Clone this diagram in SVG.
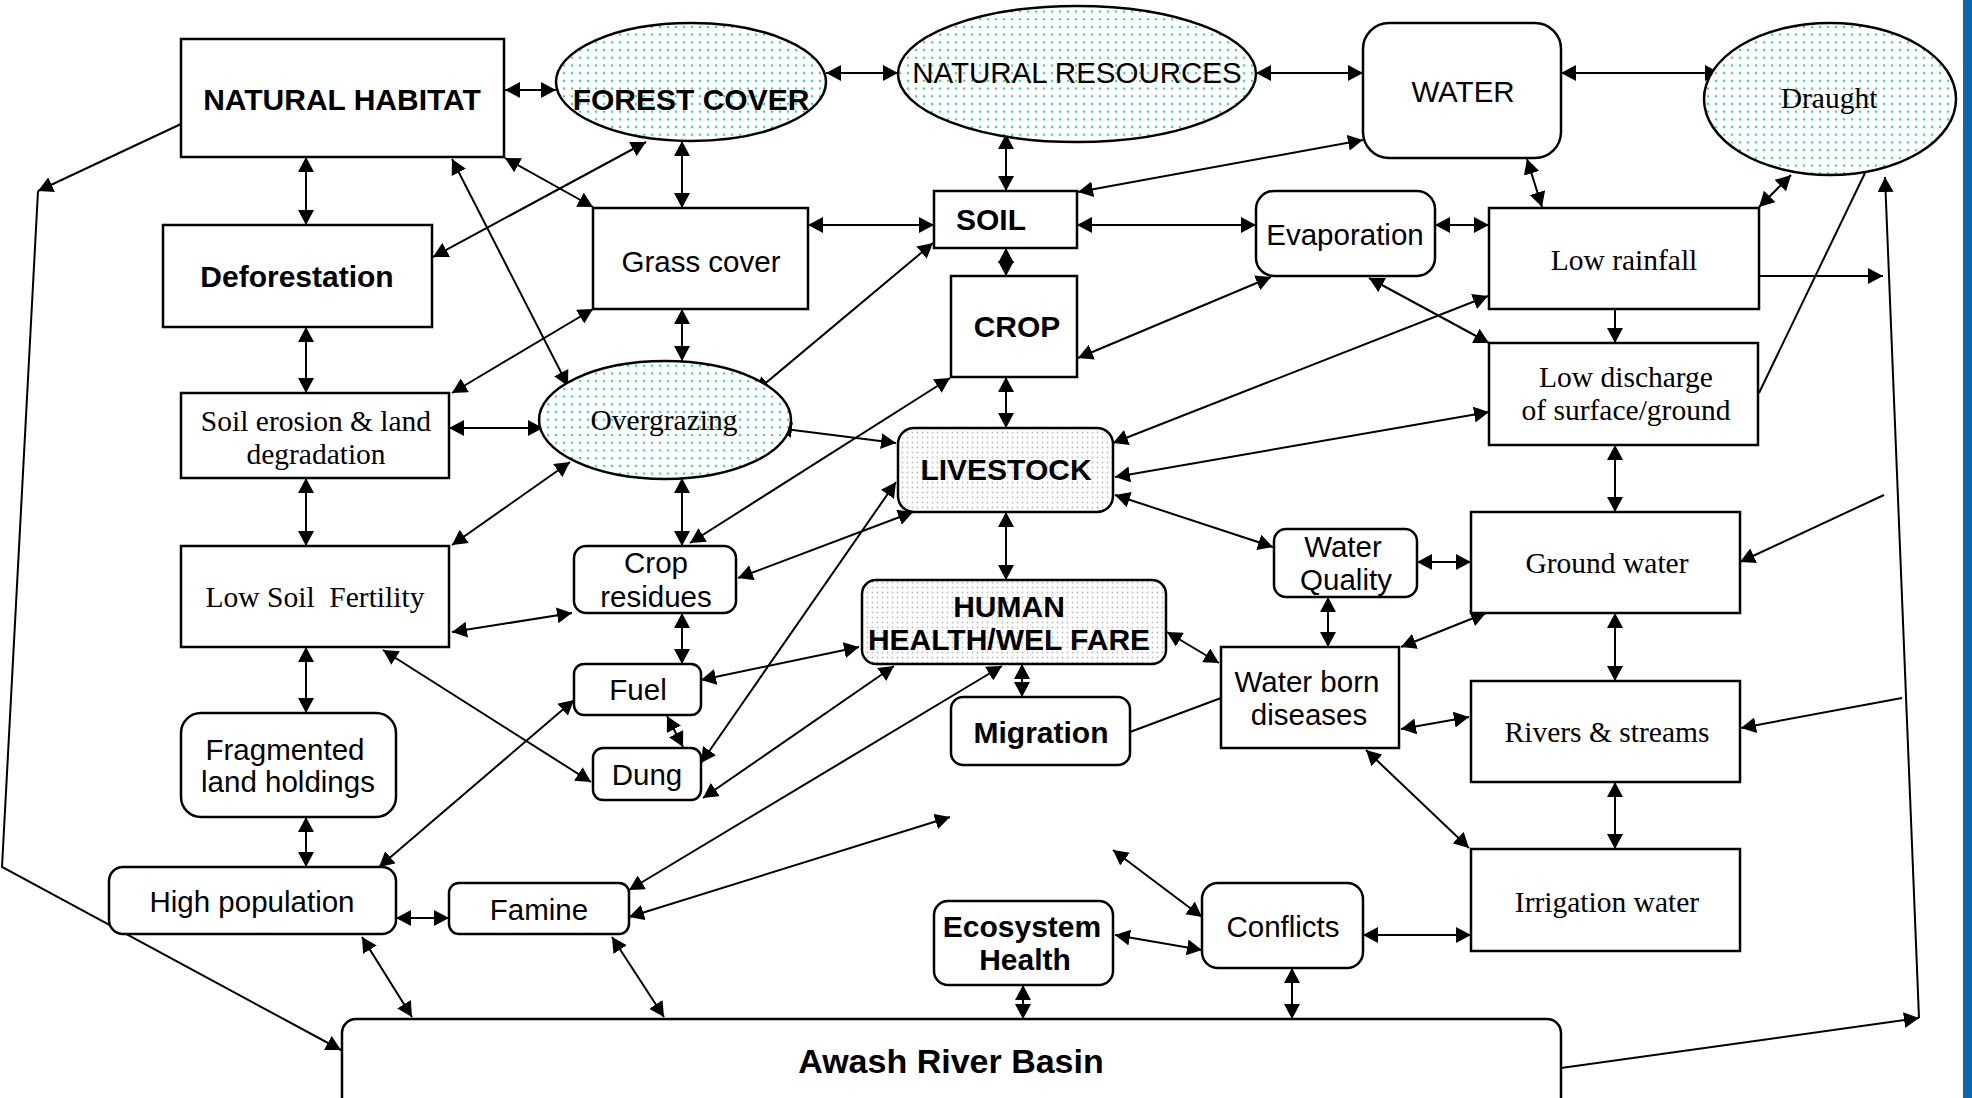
<svg xmlns="http://www.w3.org/2000/svg" width="1972" height="1098" viewBox="0 0 1972 1098">
<defs>
<pattern id="teal" width="8" height="7.7" patternUnits="userSpaceOnUse">
<rect width="8" height="7.7" fill="#ffffff"/>
<circle cx="4" cy="3.85" r="1.15" fill="#2fd3a9"/>
</pattern>
<pattern id="gray" width="5" height="5" patternUnits="userSpaceOnUse">
<rect width="5" height="5" fill="#ffffff"/>
<circle cx="2.5" cy="2.5" r="0.9" fill="#bdbdbd"/>
</pattern>
<marker id="ah" markerUnits="userSpaceOnUse" markerWidth="17" markerHeight="16" refX="15" refY="8" orient="auto-start-reverse">
<path d="M0,0 L15,8 L0,16 z" fill="#000"/>
</marker>
</defs>
<style>
.box{fill:#fff;stroke:#000;stroke-width:2.5}
.el{fill:url(#teal);stroke:#000;stroke-width:2.5}
.gr{fill:url(#gray);stroke:#000;stroke-width:2.5}
.c line,.c polyline{stroke:#000;stroke-width:2;fill:none}
.d{marker-start:url(#ah);marker-end:url(#ah)}
.s{marker-end:url(#ah)}
text{fill:#000;text-anchor:middle}
.sans{font-family:"Liberation Sans",Arial,sans-serif;font-size:29.5px}
.bold{font-family:"Liberation Sans",Arial,sans-serif;font-size:30px;font-weight:bold}
.serif{font-family:"Liberation Serif","Times New Roman",serif;font-size:29.5px}
</style>
<rect x="0" y="0" width="1972" height="1098" fill="#fff"/>
<rect x="1963" y="0" width="9" height="1098" fill="#0a66b0"/>

<g class="c" id="connectors">
<line class="d" x1="505" y1="90" x2="556" y2="90"/>
<line class="d" x1="826" y1="73" x2="898" y2="73"/>
<line class="d" x1="1256" y1="73" x2="1363" y2="73"/>
<line class="d" x1="1561" y1="73" x2="1720" y2="73"/>
<line class="d" x1="306" y1="157" x2="306" y2="225"/>
<line class="d" x1="646" y1="142" x2="433" y2="257"/>
<line class="d" x1="505" y1="158" x2="593" y2="207"/>
<line class="d" x1="452" y1="159" x2="568" y2="386"/>
<line class="d" x1="682" y1="141" x2="682" y2="208"/>
<line class="d" x1="1006" y1="134" x2="1006" y2="191"/>
<line class="d" x1="1363" y1="140" x2="1078" y2="192"/>
<line class="d" x1="808" y1="225" x2="934" y2="225"/>
<line class="d" x1="1077" y1="225" x2="1256" y2="225"/>
<line class="d" x1="1435" y1="225" x2="1489" y2="225"/>
<line class="d" x1="1527" y1="159" x2="1542" y2="207"/>
<line class="d" x1="1791" y1="175" x2="1759" y2="207"/>
<line class="d" x1="1006" y1="248" x2="1006" y2="276"/>
<line class="d" x1="755" y1="392" x2="933" y2="243"/>
<line class="d" x1="1271" y1="277" x2="1078" y2="358"/>
<line class="s" x1="1759" y1="276" x2="1883" y2="276"/>
<line class="s" x1="1615" y1="309" x2="1615" y2="343"/>
<line class="d" x1="1369" y1="278" x2="1489" y2="343"/>
<line x1="1865" y1="173" x2="1759" y2="393"/>
<line class="s" x1="1561" y1="1068" x2="1919" y2="1018"/>
<line class="s" x1="1919" y1="1018" x2="1885" y2="177"/>
<line class="d" x1="306" y1="327" x2="306" y2="393"/>
<line class="d" x1="593" y1="309" x2="452" y2="393"/>
<line class="d" x1="682" y1="309" x2="682" y2="361"/>
<line class="d" x1="449" y1="428" x2="543" y2="428"/>
<line class="d" x1="306" y1="478" x2="306" y2="546"/>
<line class="d" x1="570" y1="462" x2="452" y2="545"/>
<line class="d" x1="777" y1="428" x2="896" y2="443"/>
<line class="d" x1="682" y1="478" x2="682" y2="546"/>
<line class="d" x1="690" y1="543" x2="950" y2="378"/>
<line class="d" x1="1006" y1="377" x2="1006" y2="428"/>
<line class="d" x1="1488" y1="296" x2="1113" y2="443"/>
<line class="d" x1="1489" y1="412" x2="1115" y2="477"/>
<line class="d" x1="452" y1="632" x2="572" y2="613"/>
<line class="d" x1="913" y1="512" x2="738" y2="578"/>
<line class="d" x1="896" y1="482" x2="701" y2="763"/>
<line class="d" x1="1006" y1="512" x2="1006" y2="580"/>
<line class="d" x1="1115" y1="495" x2="1273" y2="547"/>
<line class="d" x1="1615" y1="445" x2="1615" y2="512"/>
<line class="s" x1="1884" y1="495" x2="1740" y2="562"/>
<line class="d" x1="1417" y1="562" x2="1471" y2="562"/>
<line class="d" x1="1328" y1="597" x2="1328" y2="647"/>
<line class="d" x1="1486" y1="613" x2="1401" y2="647"/>
<line class="d" x1="1615" y1="613" x2="1615" y2="681"/>
<line class="d" x1="306" y1="647" x2="306" y2="713"/>
<line class="d" x1="383" y1="650" x2="591" y2="782"/>
<line class="d" x1="682" y1="613" x2="682" y2="664"/>
<line class="d" x1="379" y1="867" x2="574" y2="700"/>
<line class="d" x1="859" y1="647" x2="701" y2="680"/>
<line class="d" x1="667" y1="716" x2="683" y2="747"/>
<line class="d" x1="894" y1="666" x2="703" y2="798"/>
<line class="d" x1="1002" y1="666" x2="629" y2="890"/>
<line class="d" x1="629" y1="917" x2="950" y2="817"/>
<line class="d" x1="1022" y1="664" x2="1022" y2="697"/>
<line x1="1130" y1="732" x2="1221" y2="698"/>
<line class="d" x1="1167" y1="632" x2="1219" y2="663"/>
<line class="d" x1="1469" y1="717" x2="1401" y2="729"/>
<line class="s" x1="1902" y1="698" x2="1741" y2="728"/>
<line class="d" x1="1615" y1="782" x2="1615" y2="849"/>
<line class="d" x1="1366" y1="750" x2="1469" y2="848"/>
<line class="d" x1="306" y1="817" x2="306" y2="867"/>
<line class="d" x1="396" y1="918" x2="449" y2="918"/>
<line class="d" x1="362" y1="937" x2="412" y2="1017"/>
<line class="d" x1="612" y1="937" x2="664" y2="1017"/>
<line class="d" x1="1023" y1="985" x2="1023" y2="1019"/>
<line class="d" x1="1115" y1="935" x2="1202" y2="950"/>
<line class="d" x1="1202" y1="917" x2="1113" y2="850"/>
<line class="d" x1="1363" y1="935" x2="1471" y2="935"/>
<line class="d" x1="1292" y1="968" x2="1292" y2="1019"/>
<line class="s" x1="181" y1="124" x2="38" y2="191"/>
<polyline class="s" points="38,191 2,867 341,1050"/>
</g>

<g id="natural-habitat"><rect class="box" x="181" y="39" width="323" height="118"/><text class="bold" x="342" y="110">NATURAL HABITAT</text></g>
<g id="forest-cover"><ellipse class="el" cx="691" cy="82" rx="135" ry="59"/><text class="bold" x="691" y="110">FOREST COVER</text></g>
<g id="natural-resources"><ellipse class="el" cx="1077" cy="74" rx="179" ry="68"/><text class="sans" x="1077" y="83">NATURAL RESOURCES</text></g>
<g id="water"><rect class="box" x="1363" y="23" width="198" height="135" rx="26"/><text class="sans" x="1463" y="102">WATER</text></g>
<g id="draught"><ellipse class="el" cx="1830" cy="99" rx="126" ry="76"/><text class="serif" x="1829" y="108">Draught</text></g>
<g id="deforestation"><rect class="box" x="163" y="225" width="269" height="102"/><text class="bold" x="297" y="287">Deforestation</text></g>
<g id="grass-cover"><rect class="box" x="593" y="208" width="215" height="101"/><text class="sans" x="701" y="272">Grass cover</text></g>
<g id="soil"><rect class="box" x="934" y="191" width="143" height="57"/><text class="bold" x="991" y="230">SOIL</text></g>
<g id="crop"><rect class="box" x="951" y="276" width="126" height="101"/><text class="bold" x="1017" y="337">CROP</text></g>
<g id="evaporation"><rect class="box" x="1256" y="191" width="179" height="85" rx="18"/><text class="sans" x="1345" y="245">Evaporation</text></g>
<g id="low-rainfall"><rect class="box" x="1489" y="208" width="270" height="101"/><text class="serif" x="1624" y="270">Low rainfall</text></g>
<g id="soil-erosion"><rect class="box" x="181" y="393" width="268" height="85"/><text class="serif" x="316" y="431">Soil erosion &amp; land</text><text class="serif" x="316" y="464">degradation</text></g>
<g id="overgrazing"><ellipse class="el" cx="665" cy="420" rx="126" ry="59"/><text class="serif" x="664" y="430">Overgrazing</text></g>
<g id="livestock"><rect class="gr" x="898" y="428" width="215" height="84" rx="16"/><text class="bold" x="1006" y="480">LIVESTOCK</text></g>
<g id="low-discharge"><rect class="box" x="1489" y="343" width="269" height="102"/><text class="serif" x="1626" y="387">Low discharge</text><text class="serif" x="1626" y="420">of surface/ground</text></g>
<g id="low-soil-fertility"><rect class="box" x="181" y="546" width="268" height="101"/><text class="serif" x="315" y="607" xml:space="preserve">Low Soil  Fertility</text></g>
<g id="crop-residues"><rect class="box" x="574" y="546" width="162" height="67" rx="12"/><text class="sans" x="656" y="573">Crop</text><text class="sans" x="656" y="607">residues</text></g>
<g id="human-health"><rect class="gr" x="862" y="580" width="304" height="84" rx="14"/><text class="bold" x="1009" y="617">HUMAN</text><text class="bold" x="1009" y="650">HEALTH/WEL FARE</text></g>
<g id="water-quality"><rect class="box" x="1274" y="529" width="143" height="68" rx="12"/><text class="sans" x="1343" y="557">Water</text><text class="sans" x="1346" y="590">Quality</text></g>
<g id="ground-water"><rect class="box" x="1471" y="512" width="269" height="101"/><text class="serif" x="1607" y="573">Ground water</text></g>
<g id="fuel"><rect class="box" x="574" y="664" width="127" height="51" rx="10"/><text class="sans" x="638" y="700">Fuel</text></g>
<g id="water-born-diseases"><rect class="box" x="1221" y="647" width="178" height="101"/><text class="sans" x="1307" y="692">Water born</text><text class="sans" x="1309" y="725">diseases</text></g>
<g id="migration"><rect class="box" x="951" y="697" width="179" height="68" rx="12"/><text class="bold" x="1041" y="743">Migration</text></g>
<g id="rivers-streams"><rect class="box" x="1471" y="681" width="269" height="101"/><text class="serif" x="1607" y="742">Rivers &amp; streams</text></g>
<g id="fragmented"><rect class="box" x="181" y="713" width="215" height="104" rx="20"/><text class="sans" x="285" y="760">Fragmented</text><text class="sans" x="288" y="792">land holdings</text></g>
<g id="dung"><rect class="box" x="593" y="748" width="108" height="52" rx="10"/><text class="sans" x="647" y="785">Dung</text></g>
<g id="high-population"><rect class="box" x="109" y="867" width="287" height="67" rx="14"/><text class="sans" x="252" y="912">High population</text></g>
<g id="famine"><rect class="box" x="449" y="883" width="180" height="51" rx="10"/><text class="sans" x="539" y="920">Famine</text></g>
<g id="irrigation-water"><rect class="box" x="1471" y="849" width="269" height="102"/><text class="serif" x="1607" y="912">Irrigation water</text></g>
<g id="ecosystem-health"><rect class="box" x="934" y="901" width="179" height="84" rx="14"/><text class="bold" x="1022" y="937">Ecosystem</text><text class="bold" x="1025" y="970">Health</text></g>
<g id="conflicts"><rect class="box" x="1202" y="883" width="161" height="85" rx="16"/><text class="sans" x="1283" y="937">Conflicts</text></g>
<g id="awash"><rect class="box" x="342" y="1019" width="1219" height="115" rx="14"/><text class="bold" style="font-size:34px" x="951" y="1073">Awash River Basin</text></g>
</svg>
